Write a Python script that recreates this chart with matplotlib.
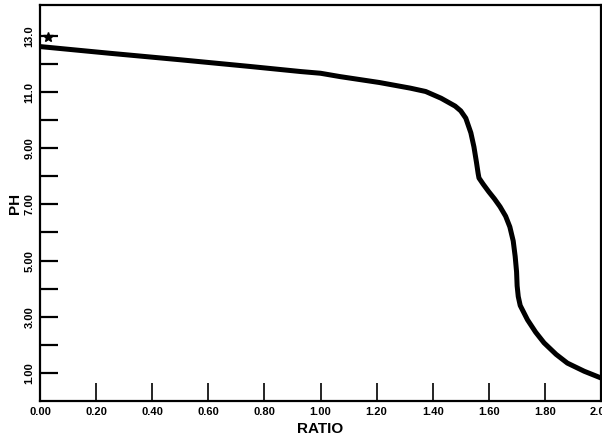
import matplotlib.pyplot as plt

# titration curve
ratio = [0.00, 0.25, 0.50, 0.75, 0.93, 1.00, 1.07, 1.21, 1.32, 1.375, 1.43,
         1.48, 1.50, 1.518, 1.536, 1.547, 1.556, 1.562, 1.565, 1.58, 1.60,
         1.62, 1.64, 1.66, 1.675, 1.687, 1.694, 1.699, 1.701, 1.705, 1.712, 1.738,
         1.767, 1.797, 1.84, 1.88, 1.94, 2.00]
ph = [12.62, 12.38, 12.15, 11.91, 11.73, 11.67, 11.55, 11.34, 11.14, 11.02, 10.78,
      10.50, 10.33, 10.07, 9.55, 9.05, 8.50, 8.10, 7.94, 7.72, 7.45,
      7.20, 6.92, 6.58, 6.20, 5.70, 5.15, 4.60, 4.10, 3.72, 3.40, 2.89,
      2.45, 2.07, 1.66, 1.35, 1.06, 0.82]

xticks = [0.0, 0.2, 0.4, 0.6, 0.8, 1.0, 1.2, 1.4, 1.6, 1.8, 2.0]
xticklabels = ['0.00', '0.20', '0.40', '0.60', '0.80', '1.00', '1.20', '1.40', '1.60', '1.80', '2.00']
yticks = [1, 3, 5, 7, 9, 11, 13]
yticklabels = ['1.00', '3.00', '5.00', '7.00', '9.00', '11.0', '13.0']
yminor = [2, 4, 6, 8, 10, 12]

plt.rcParams['font.family'] = ['Liberation Sans', 'DejaVu Sans']

fig = plt.figure(figsize=(6.02, 4.46), dpi=100)
ax = fig.add_axes([40 / 602, 45 / 446, 561 / 602, 396 / 446])

ax.plot(ratio, ph, color='black', linewidth=3.6, solid_joinstyle='round')
ax.plot([0.03], [12.95], marker='*', color='black', markersize=7, linestyle='none')

ax.set_xlim(0, 2.0)
ax.set_ylim(0, 14.1)

ax.set_xticks(xticks)
ax.set_xticklabels(xticklabels, fontsize=8, fontweight='bold')
ax.set_yticks(yticks)
ax.set_yticklabels(yticklabels, fontsize=8, fontweight='bold', rotation=90, va='center')
ax.set_yticks(yminor, minor=True)

ax.tick_params(axis='both', which='both', direction='in', length=13, width=1.6,
               top=False, right=False, pad=4)
ax.tick_params(axis='x', width=1.2)

for s in ax.spines.values():
    s.set_linewidth(1.6)

ax.set_xlabel('RATIO', fontsize=11, fontweight='bold', labelpad=4)
ax.set_ylabel('PH', fontsize=11, fontweight='bold', labelpad=2)

fig.savefig('out.png', dpi=100)
